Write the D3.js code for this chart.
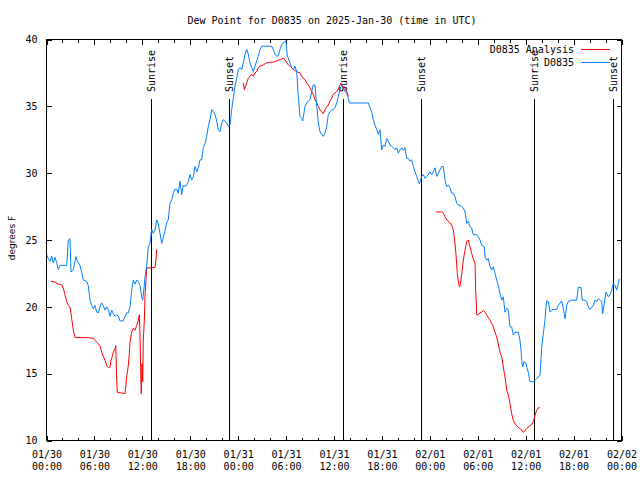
<!DOCTYPE html>
<html>
<head>
<meta charset="utf-8">
<script src="https://cdn.jsdelivr.net/npm/d3@7"></script>
<style>
  html, body { margin: 0; padding: 0; background: #fff; }
  svg { display: block; }
  text { font-family: "DejaVu Sans Mono", "Liberation Mono", monospace; font-size: 10px; fill: #000; }
</style>
</head>
<body>
<svg id="chart" width="640" height="480"></svg>
<script>
// ---------------- DATA ----------------
const chartTitle = "Dew Point for D0835 on 2025-Jan-30 (time in UTC)";
const yAxisLabel = "degrees F";
const seriesNames = ["D0835 Analysis", "D0835"];
const seriesColors = ["#ff0000", "#0080ff"];
const yTicks = [10, 15, 20, 25, 30, 35, 40];
// hours since 2025-01-30 00:00 UTC
const majorTickHours = [0, 6, 12, 18, 24, 30, 36, 42, 48, 54, 60, 66, 72];
const sunEvents = [["Sunrise", 13.17], ["Sunset", 22.89], ["Sunrise", 37.17], ["Sunset", 46.93], ["Sunrise", 61.08], ["Sunset", 71.03]];

// observed dew point [hour, degF]
const obsSeries = [
[0.03,23.9],[0.23,23.6],[0.44,23.4],[0.65,23.8],[0.85,23.3],[1.06,23.7],[1.28,23.3],[1.48,22.8],[1.69,23.1],[2.53,23.1],
[2.73,25.0],[2.94,25.1],[3.07,22.6],[3.36,22.8],[3.69,23.75],[3.86,23.4],[4.19,23.1],[4.41,22.6],[4.61,22.0],[5.03,21.9],
[5.23,21.6],[5.45,20.5],[5.66,20.1],[5.86,19.85],[6.07,20.1],[6.29,19.6],[6.49,19.55],[6.70,20.0],[6.91,20.3],[7.11,20.1],
[7.33,19.75],[7.54,20.0],[7.74,19.8],[7.95,19.3],[8.16,19.75],[8.36,19.5],[8.58,19.3],[8.79,19.4],[8.99,19.3],[9.20,18.95],
[9.62,18.95],[9.83,19.3],[10.04,19.55],[10.24,19.55],[10.46,20.0],[10.67,21.25],[10.87,22.0],[11.08,21.7],[11.29,22.0],[11.50,21.9],
[11.71,21.6],[11.92,20.75],[12.05,20.5],[12.21,21.4],[12.33,22.2],[12.55,23.1],[12.75,24.5],[12.96,24.75],[13.17,25.8],[13.37,25.5],
[13.59,25.75],[13.80,26.5],[14.00,26.2],[14.21,25.5],[14.43,24.75],[14.63,25.2],[14.84,25.7],[15.05,26.3],[15.25,26.5],[15.46,27.75],
[15.68,28.0],[15.88,28.5],[16.09,28.8],[16.30,28.8],[16.50,28.5],[16.72,29.4],[16.93,28.4],[17.13,29.1],[17.34,29.0],[17.56,29.1],
[17.76,29.4],[17.97,29.9],[18.18,29.5],[18.38,29.7],[18.60,30.5],[18.81,30.1],[19.01,30.4],[19.22,31.0],[19.43,31.0],[19.63,31.9],
[19.85,32.2],[20.06,32.75],[20.26,33.5],[20.47,34.0],[20.69,34.75],[20.89,34.6],[21.10,34.4],[21.31,33.9],[21.51,33.25],[21.73,33.1],
[21.94,33.75],[22.14,34.0],[22.35,33.9],[22.57,33.75],[22.77,33.5],[22.98,33.6],[23.19,34.75],[23.39,35.6],[23.60,36.5],[23.82,37.1],
[24.02,37.75],[24.23,37.9],[24.44,37.75],[24.64,38.25],[24.86,38.9],[25.07,39.25],[25.27,38.9],[25.48,38.25],[25.70,37.9],[25.90,37.6],
[26.11,38.0],[26.32,38.4],[26.52,38.75],[26.73,39.25],[26.95,39.5],[27.99,39.5],[28.20,39.5],[28.40,39.25],[28.61,38.9],[28.83,38.75],
[29.03,38.8],[29.24,39.25],[29.45,39.6],[29.65,39.75],[29.99,39.9],[30.15,38.75],[30.28,38.6],[30.49,38.25],[30.70,37.9],[30.90,37.75],
[31.12,38.0],[31.33,37.6],[31.53,35.75],[31.74,34.25],[31.96,34.1],[32.08,33.9],[32.24,34.5],[32.37,35.0],[32.58,35.25],[32.78,35.4],
[33.00,35.5],[33.21,36.1],[33.41,36.6],[33.62,36.6],[33.84,35.0],[34.04,33.75],[34.25,33.1],[34.46,32.9],[34.66,32.75],[34.87,33.0],
[35.09,33.5],[35.29,34.4],[35.50,34.6],[35.71,34.75],[35.91,34.75],[36.13,34.9],[36.34,35.25],[36.54,35.75],[36.75,36.25],[36.97,36.6],
[37.17,36.4],[37.38,36.1],[37.59,36.0],[37.79,35.6],[37.92,35.25],[40.30,35.25],[40.51,34.9],[40.72,34.6],[40.92,34.0],[41.13,33.6],
[41.35,33.25],[41.55,32.9],[41.76,33.25],[41.97,31.75],[42.17,32.1],[42.39,32.0],[42.60,32.6],[42.80,32.4],[43.01,32.1],[43.23,32.0],
[43.43,31.9],[43.64,31.75],[43.85,31.9],[44.05,31.5],[44.27,31.75],[44.48,31.9],[44.68,31.7],[44.89,31.9],[45.10,31.1],[45.31,31.1],
[45.52,30.9],[45.73,31.0],[45.93,30.5],[46.14,30.1],[46.36,29.75],[46.56,29.4],[46.68,29.2],[46.98,29.75],[47.18,29.9],[47.40,29.6],
[47.61,29.75],[47.81,29.9],[48.02,30.1],[48.24,29.9],[48.44,30.1],[48.65,30.4],[48.86,29.75],[49.06,30.0],[49.27,30.25],[49.48,30.5],
[49.69,30.5],[49.90,29.5],[50.11,29.0],[50.31,29.1],[50.53,28.9],[50.74,28.5],[50.94,28.5],[51.15,28.25],[51.37,27.75],[51.57,27.6],
[51.78,27.6],[51.99,27.5],[52.19,27.4],[52.41,27.1],[52.62,26.25],[52.82,26.4],[53.03,26.0],[53.24,25.9],[53.44,25.4],[53.87,25.4],
[54.07,25.25],[54.28,25.0],[54.50,24.6],[54.82,24.5],[54.91,23.75],[55.12,23.5],[55.32,23.6],[55.54,23.0],[55.75,22.75],[55.95,23.0],
[56.16,22.5],[56.37,22.0],[56.57,21.6],[56.79,21.0],[57.00,20.5],[57.20,20.75],[57.41,19.6],[57.63,19.9],[57.83,19.75],[58.04,18.5],
[58.25,18.5],[58.45,17.9],[58.67,18.1],[59.08,18.1],[59.29,17.5],[59.42,16.75],[59.51,16.0],[59.63,15.5],[59.79,15.9],[60.04,15.8],
[60.13,15.5],[60.33,15.1],[60.54,14.4],[60.96,14.4],[61.17,14.5],[61.38,14.6],[61.80,14.9],[62.01,17.0],[62.21,18.0],[62.42,19.0],
[62.55,20.0],[62.63,20.45],[62.84,20.4],[63.05,19.6],[63.26,19.75],[63.46,19.8],[63.89,19.8],[64.09,20.1],[64.51,20.45],[64.71,19.9],
[64.93,19.1],[65.14,20.1],[65.34,20.4],[65.77,20.5],[66.39,20.5],[66.59,21.45],[66.93,21.45],[67.09,20.5],[67.43,20.5],[67.64,20.4],
[67.84,20.0],[68.06,19.8],[68.47,20.1],[68.68,20.5],[68.90,20.4],[69.10,20.6],[69.31,20.5],[69.52,20.4],[69.65,19.5],[69.81,20.1],
[70.06,21.1],[70.35,20.75],[70.56,20.9],[70.77,21.25],[70.98,21.75],[71.19,21.6],[71.40,21.25],[71.60,21.75],[71.73,22.1]
];

// analysis dew point [hour, degF]; null breaks the line
const analysisSeries = [
[0.56,21.9],[1.06,21.85],[1.48,21.7],[1.90,21.65],[2.10,21.4],[2.32,20.9],[2.53,20.4],[2.73,20.1],[2.94,20.0],[3.16,19.1],
[3.36,18.25],[3.57,17.7],[5.03,17.7],[5.86,17.65],[6.07,17.5],[6.29,17.35],[6.49,17.2],[6.70,17.1],[6.91,16.6],[7.11,16.3],
[7.33,16.0],[7.54,15.6],[7.74,15.45],[7.95,15.5],[8.08,16.0],[8.24,16.3],[8.36,16.6],[8.58,16.85],[8.67,17.1],[8.79,14.5],
[8.87,13.6],[9.42,13.55],[9.83,13.5],[10.04,14.75],[10.24,15.6],[10.37,16.5],[10.46,17.4],[10.67,18.1],[10.87,18.4],[11.08,18.25],
[11.29,18.6],[11.50,19.0],[11.62,19.4],[11.71,17.9],[11.80,15.0],[11.87,13.5],[11.96,15.75],[12.05,14.4],[12.12,17.5],[12.25,19.0],
[12.33,20.75],[12.46,22.05],[12.55,22.9],[13.59,22.95],[13.71,23.5],[13.80,24.3],
[19.0,null],
[24.64,36.75],[24.77,36.25],[25.07,36.75],[25.27,37.1],[25.48,37.25],[25.70,37.4],[25.90,37.25],[26.11,37.5],[26.32,37.6],[26.52,37.9],
[26.73,38.0],[27.15,38.1],[27.57,38.25],[27.99,38.3],[28.40,38.3],[28.83,38.4],[29.24,38.5],[29.65,38.6],[29.87,38.5],[30.08,38.25],
[30.28,38.1],[30.49,38.0],[30.70,37.9],[30.90,37.75],[31.33,37.6],[31.74,37.5],[31.96,37.25],[32.16,37.1],[32.37,37.0],[32.58,36.75],
[32.78,36.6],[33.00,36.4],[33.21,36.1],[33.41,35.9],[33.62,35.5],[33.84,35.25],[34.04,35.0],[34.25,34.75],[34.46,34.6],[34.66,34.45],
[34.87,34.75],[35.09,34.95],[35.29,35.1],[35.50,35.4],[35.71,35.6],[35.91,35.9],[36.13,36.0],[36.34,36.1],[36.54,36.3],[36.75,36.6],
[36.88,36.75],[37.09,36.4],[37.25,36.5],[37.47,36.25],[37.67,36.0],[37.79,35.75],
[43.0,null],
[48.77,27.1],[49.49,27.1],[49.69,27.0],[49.90,26.75],[50.11,26.5],[50.53,26.3],[50.74,26.1],[50.94,25.75],[51.15,24.75],[51.28,23.9],
[51.44,22.5],[51.57,21.9],[51.69,21.5],[51.82,21.6],[51.91,22.1],[52.03,22.6],[52.19,23.5],[52.41,24.25],[52.62,24.9],[52.82,25.0],
[53.03,24.5],[53.24,24.0],[53.44,23.6],[53.66,23.25],[53.74,21.25],[53.87,19.4],[54.07,19.4],[54.28,19.55],[54.50,19.6],[54.70,19.75],
[54.91,19.6],[55.12,19.4],[55.32,19.2],[55.54,19.0],[55.75,18.75],[55.95,18.5],[56.16,18.1],[56.37,17.75],[56.57,17.25],[56.79,16.6],
[57.00,16.25],[57.20,15.5],[57.41,14.75],[57.63,13.75],[57.83,13.4],[58.04,12.75],[58.25,12.0],[58.45,11.5],[58.67,11.25],[58.88,11.1],
[59.29,10.9],[59.70,10.6],[59.92,10.75],[60.13,10.9],[60.54,11.1],[60.76,11.2],[60.96,11.4],[61.17,11.9],[61.38,12.25],[61.58,12.45],
[61.80,12.45]
];

// ---------------- DRAW ----------------
const t0 = Date.UTC(2025, 0, 30);
const toDate = h => new Date(t0 + h * 3600e3);

const L = 46.5, R = 621.5, T = 39.5, B = 440.5;
const svg = d3.select("#chart");

const x = d3.scaleUtc().domain([toDate(0), toDate(72)]).range([L, R]);
const y = d3.scaleLinear().domain([10, 40]).range([B, T]);

// title
svg.append("text").attr("x", 332).attr("y", 24).attr("text-anchor", "middle").text(chartTitle);

// y label
svg.append("text")
  .attr("transform", "translate(12,238) rotate(-90)")
  .attr("text-anchor", "middle").attr("dy", "0.35em")
  .style("font-family", "'DejaVu Sans', sans-serif").style("font-size", "9px")
  .text(yAxisLabel);

const minorHours = d3.range(0, 73, 2);

// bottom axis (major, labelled)
const gB = svg.append("g").attr("transform", `translate(0,${B})`)
  .call(d3.axisBottom(x).tickValues(majorTickHours.map(toDate)).tickSizeInner(-5).tickSizeOuter(0).tickPadding(0).tickFormat(""));
gB.select(".domain").remove();
gB.selectAll(".tick").each(function(d) {
  const g = d3.select(this);
  g.select("text").remove();
  const t = g.append("text").attr("text-anchor", "middle").attr("fill", "#000");
  t.append("tspan").attr("x", 0).attr("y", 17.5).text(d3.utcFormat("%m/%d")(d));
  t.append("tspan").attr("x", 0).attr("y", 29.5).text(d3.utcFormat("%H:%M")(d));
});
// bottom minor
const gBm = svg.append("g").attr("transform", `translate(0,${B})`)
  .call(d3.axisBottom(x).tickValues(minorHours.map(toDate)).tickSizeInner(-3).tickSizeOuter(0).tickFormat(""));
gBm.select(".domain").remove();
// top major/minor
const gT = svg.append("g").attr("transform", `translate(0,${T})`)
  .call(d3.axisTop(x).tickValues(majorTickHours.map(toDate)).tickSizeInner(-5).tickSizeOuter(0).tickFormat(""));
gT.select(".domain").remove();
const gTm = svg.append("g").attr("transform", `translate(0,${T})`)
  .call(d3.axisTop(x).tickValues(minorHours.map(toDate)).tickSizeInner(-3).tickSizeOuter(0).tickFormat(""));
gTm.select(".domain").remove();

// left axis
const gL = svg.append("g").attr("transform", `translate(${L},0)`)
  .call(d3.axisLeft(y).tickValues(yTicks).tickSizeInner(-5).tickSizeOuter(0).tickPadding(9).tickFormat(d3.format("d")));
gL.select(".domain").remove();
gL.selectAll("text").attr("fill", "#000").style("font-size", "10px").style("font-family", "'DejaVu Sans Mono', monospace");
// right axis
const gR = svg.append("g").attr("transform", `translate(${R},0)`)
  .call(d3.axisRight(y).tickValues(yTicks).tickSizeInner(-5).tickSizeOuter(0).tickFormat(""));
gR.select(".domain").remove();

svg.selectAll(".tick line").attr("stroke", "#000").attr("shape-rendering", "crispEdges");

// frame
svg.append("rect").attr("x", L).attr("y", T).attr("width", R - L).attr("height", B - T)
  .attr("fill", "none").attr("stroke", "#000").attr("shape-rendering", "crispEdges");

// sunrise / sunset
const sun = svg.append("g");
sunEvents.forEach(([name, h]) => {
  const sx = Math.floor(x(toDate(h))) + 0.5;
  sun.append("line").attr("x1", sx).attr("x2", sx).attr("y1", 99).attr("y2", B)
    .attr("stroke", "#000").attr("shape-rendering", "crispEdges");
  sun.append("text").attr("transform", `translate(${sx},92) rotate(-90)`)
    .attr("dy", "0.35em").attr("text-anchor", "start").text(name);
});

// lines
const line = d3.line()
  .defined(d => d[1] != null)
  .x(d => x(toDate(d[0])))
  .y(d => y(d[1]));

svg.append("path").datum(analysisSeries).attr("fill", "none").attr("stroke", seriesColors[0]).attr("stroke-width", 1).attr("d", line);
svg.append("path").datum(obsSeries).attr("fill", "none").attr("stroke", seriesColors[1]).attr("stroke-width", 1).attr("d", line);

// legend
const leg = svg.append("g");
[0, 1].forEach(i => {
  const ly = 49.5 + i * 13;
  leg.append("text").attr("x", 574).attr("y", ly).attr("dy", "0.35em").attr("text-anchor", "end").text(seriesNames[i]);
  leg.append("line").attr("x1", 581).attr("x2", 610).attr("y1", ly).attr("y2", ly)
    .attr("stroke", seriesColors[i]).attr("shape-rendering", "crispEdges");
});
</script>
</body>
</html>
